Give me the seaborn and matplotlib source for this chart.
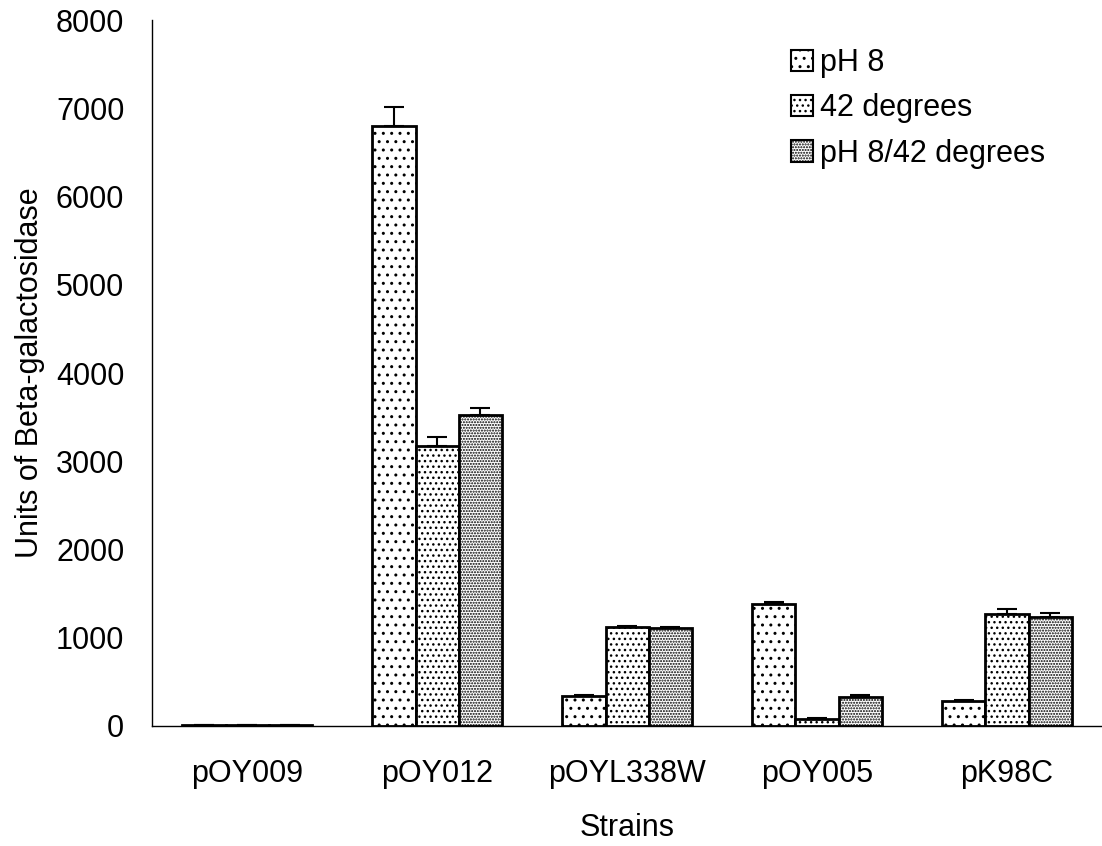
import matplotlib
matplotlib.use("Agg")
import matplotlib.pyplot as plt
import seaborn as sns
import pandas as pd
import numpy as np
from matplotlib.patches import Patch

strains = ["pOY009", "pOY012", "pOYL338W", "pOY005", "pK98C"]
conditions = ["pH 8", "42 degrees", "pH 8/42 degrees"]
ph8 = [10, 6800, 340, 1380, 285]
deg42 = [10, 3170, 1120, 80, 1270]
ph8_42 = [10, 3530, 1110, 330, 1230]
err_ph8 = [0, 220, 15, 30, 10]
err_42 = [0, 100, 15, 10, 50]
err_ph8_42 = [0, 70, 15, 15, 50]

values = {"pH 8": ph8, "42 degrees": deg42, "pH 8/42 degrees": ph8_42}
errors = {"pH 8": err_ph8, "42 degrees": err_42, "pH 8/42 degrees": err_ph8_42}

rows = []
for c in conditions:
    for s, v in zip(strains, values[c]):
        rows.append({"Strain": s, "Condition": c, "Units": v})
df = pd.DataFrame(rows)

sns.set_theme(style="white")
plt.rcParams["font.family"] = ["Liberation Sans", "DejaVu Sans"]
plt.rcParams["hatch.linewidth"] = 1.0
plt.rcParams["text.color"] = "black"
plt.rcParams["axes.labelcolor"] = "black"
plt.rcParams["xtick.color"] = "black"
plt.rcParams["ytick.color"] = "black"

fig = plt.figure(figsize=(11.02, 8.46), dpi=100)
ax = fig.add_axes([0.138, 0.142, 0.862, 0.834])

sns.barplot(data=df, x="Strain", y="Units", hue="Condition", order=strains,
            hue_order=conditions, palette=["white"] * 3, width=0.68, gap=0,
            edgecolor="black", linewidth=2, errorbar=None, ax=ax, legend=False)

hatches = ["..", "...", "......"]
for cont, h, c in zip(ax.containers, hatches, conditions):
    xs = []
    for p in cont.patches:
        p.set_hatch(h)
        p.set_facecolor("white")
        p.set_edgecolor("black")
        xs.append(p.get_x() + p.get_width() / 2)
    e = np.array(errors[c])
    v = np.array(values[c])
    ax.errorbar(xs, v, yerr=[np.zeros_like(e), e], fmt="none", ecolor="black",
                elinewidth=1.5, capsize=7, capthick=1.5, zorder=3)

handles = [Patch(facecolor="white", edgecolor="black", hatch=h, linewidth=1.5) for h in hatches]
ax.legend(handles, conditions, loc="upper left", bbox_to_anchor=(0.66, 0.978), frameon=False,
          fontsize=22, handlelength=0.7, handleheight=0.7, handletextpad=0.25,
          labelspacing=0.5, borderaxespad=0, labelcolor="black")

ax.set_ylim(0, 8000)
ax.set_xlim(-0.5, 4.5)
ax.set_yticks(range(0, 8001, 1000))
ax.set_xticks(range(len(strains)))
ax.set_xticklabels(strains)
ax.set_xticks(np.arange(-0.5, 4.6, 1.0), minor=True)
ax.tick_params(axis="x", which="major", length=0, pad=24, labelsize=22, labelcolor="black")
ax.tick_params(axis="x", which="minor", length=8, width=1, direction="out", color="black")
ax.tick_params(axis="y", which="major", length=6, width=1, direction="out", labelsize=22,
               color="black", labelcolor="black", pad=14)
ax.set_ylabel("Units of Beta-galactosidase", fontsize=22, labelpad=8, color="black")
ax.set_xlabel("Strains", fontsize=22, labelpad=17, color="black")

sns.despine(ax=ax)
for sp in ["left", "bottom"]:
    ax.spines[sp].set_color("black")
    ax.spines[sp].set_linewidth(1)

fig.savefig("out.png", dpi=100)
